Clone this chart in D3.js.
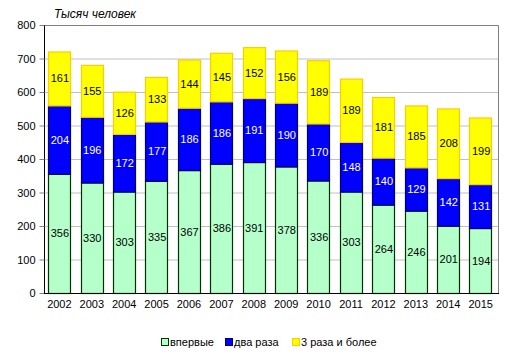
<!DOCTYPE html>
<html><head><meta charset="utf-8">
<script src="https://cdn.jsdelivr.net/npm/d3@7"></script>
<style>body{margin:0;background:#fff}svg{display:block;font-family:Arial,"Liberation Sans",sans-serif}</style>
</head><body><svg id="c" width="512" height="360"></svg>
<script>
const years = ["2002","2003","2004","2005","2006","2007","2008","2009","2010","2011","2012","2013","2014","2015"];
const firstTime = [356,330,303,335,367,386,391,378,336,303,264,246,201,194];
const twice = [204,196,172,177,186,186,191,190,170,148,140,129,142,131];
const threePlus = [161,155,126,133,144,145,152,156,189,189,181,185,208,199];
const seriesNames = ["впервые","два раза","3 раза и более"];
const yTicks = [0,100,200,300,400,500,600,700,800];

const fills = ["#b5ffcb","#0000ff","#ffff00"];
const strokes = ["#003300","#000066","#ffcc00"];
const labelColors = ["#000","#fff","#000"];

const svg = d3.select("#c");
const L=44, R=498, T=25, B=293;
const x = d3.scaleBand().domain(years).range([L-1,R-1]).paddingInner(0.31).paddingOuter(0.16);
const y = d3.scaleLinear().domain([0,800]).range([B,T]);

// gridlines
svg.append("g").selectAll("line").data(yTicks.slice(1,-1)).join("line")
  .attr("x1",L).attr("x2",R).attr("y1",d=>y(d)+0.5).attr("y2",d=>y(d)+0.5)
  .attr("stroke","#c0c0c0");
// frame top/right
svg.append("path").attr("d",`M${L},${T+0.5}H${R+0.5}V${B}`).attr("fill","none").attr("stroke","#808080");

const data = years.map((yr,i)=>({year:yr,v:[firstTime[i],twice[i],threePlus[i]]}));
const stack = d3.stack().keys([0,1,2]).value((d,k)=>d.v[k])(data);

stack.forEach((layer,k)=>{
  const g = svg.append("g");
  g.selectAll("rect").data(layer).join("rect")
    .attr("x",d=>Math.round(x(d.data.year))+0.5)
    .attr("width",Math.round(x.bandwidth()))
    .attr("y",d=>y(d[1])+0.5)
    .attr("height",d=>y(d[0])-y(d[1]))
    .attr("fill",fills[k]).attr("stroke",strokes[k]).attr("stroke-width",1.2);
});
stack.forEach((layer,k)=>{
  svg.append("g").selectAll("text").data(layer).join("text")
    .attr("x",d=>x(d.data.year)+x.bandwidth()/2+0.5)
    .attr("y",d=>y((d[0]+d[1])/2)+4)
    .attr("text-anchor","middle").attr("font-size",11).attr("fill",labelColors[k])
    .text(d=>d.data.v[k]);
});

// axes
const ya = svg.append("g").attr("transform",`translate(${L+0.5},0)`)
  .call(d3.axisLeft(y).tickValues(yTicks).tickSize(5).tickPadding(4).tickFormat(d3.format("d")));
ya.select(".domain").attr("stroke","#000").attr("d",`M0,${T}V${B+0.5}`);
ya.selectAll(".tick line").attr("stroke","#808080");
ya.selectAll("text").attr("font-size",11).attr("fill","#000").attr("font-family","Arial,'Liberation Sans',sans-serif");

const xa = svg.append("g").attr("transform",`translate(0,${B+0.5})`)
  .call(d3.axisBottom(x).tickSize(0).tickPadding(7));
xa.select(".domain").attr("stroke","#000").attr("d",`M${L},0H${R+1}`);
xa.selectAll("text").attr("font-size",11).attr("fill","#000").attr("font-family","Arial,'Liberation Sans',sans-serif");

// title
svg.append("text").attr("x",54).attr("y",18).attr("font-size",12).attr("font-style","italic").text("Тысяч человек");

// legend
const legX = [161,225,292];
seriesNames.forEach((n,k)=>{
  svg.append("rect").attr("x",legX[k]+0.5).attr("y",338.5).attr("width",7).attr("height",7)
    .attr("fill",fills[k]).attr("stroke",strokes[k]);
  svg.append("text").attr("x",legX[k]+9).attr("y",346).attr("font-size",11).text(n);
});
</script></body></html>
